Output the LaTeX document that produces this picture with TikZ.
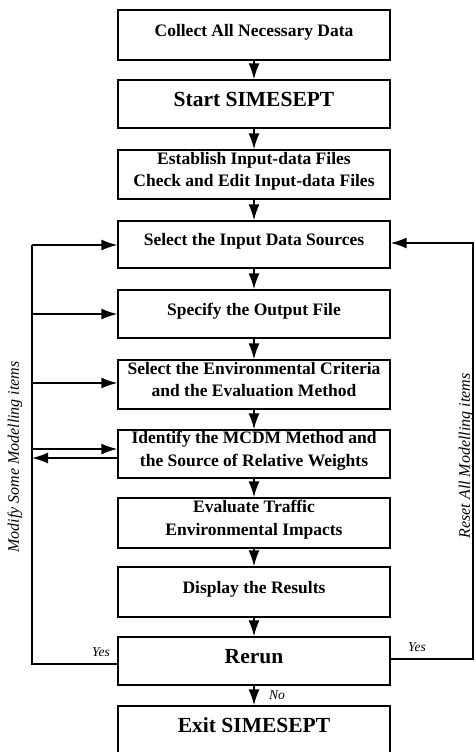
\documentclass[tikz,border=0pt]{standalone}
\usepackage{fontspec}
\setmainfont{Liberation Serif}
\usetikzlibrary{arrows.meta}
\begin{document}
\begin{tikzpicture}[x=1pt,y=-1pt,
  box/.style={draw, line width=1.4pt, minimum width=272pt, minimum height=48pt,
    inner sep=0pt, align=center, font=\fontsize{17.5}{22.5}\selectfont\bfseries},
  big/.style={font=\fontsize{21.5}{25}\selectfont\bfseries},
  up/.style={text depth=10pt},
  uptwo/.style={text depth=10pt},
  line/.style={line width=1.6pt},
  arr/.style={line width=1.6pt, -{Latex[length=16pt,width=11pt]}},
  lab/.style={font=\fontsize{13.5}{16}\selectfont\itshape, inner sep=0pt},
  side/.style={font=\fontsize{16}{19}\selectfont\itshape, inner sep=0pt, rotate=90}]
\useasboundingbox (0,0) rectangle (475,752);
\node[box,up,minimum height=50pt] (n1) at (254,35) {Collect All Necessary Data};
\node[box,up,big] (n2) at (254,104) {Start SIMESEPT};
\node[box,uptwo,minimum height=49pt] (n3) at (254,174.5) {Establish Input-data Files\\Check and Edit Input-data Files};
\node[box,up,minimum height=47pt] (n4) at (254,244.5) {Select the Input Data Sources};
\node[box,up] (n5) at (254,314) {Specify the Output File};
\node[box,uptwo,minimum height=49pt] (n6) at (254,384.5) {Select the Environmental Criteria\\and the Evaluation Method};
\node[box,uptwo] (n7) at (254,454) {Identify the MCDM Method and\\the Source of Relative Weights};
\node[box,uptwo,minimum height=50pt] (n8) at (254,523) {Evaluate Traffic\\Environmental Impacts};
\node[box,up,minimum height=50pt] (n9) at (254,592) {Display the Results};
\node[box,up,big] (n10) at (254,661) {Rerun};
\node[box,up,big] (n11) at (254,730) {Exit SIMESEPT};
\foreach \a/\b in {n1/n2,n2/n3,n3/n4,n4/n5,n5/n6,n6/n7,n7/n8,n8/n9,n9/n10,n10/n11}
  \draw[arr] (\a) -- (\b);
% left feedback
\coordinate (L4) at (32,245);
\coordinate (L5) at (32,314);
\coordinate (L6) at (32,383);
\coordinate (L7) at (32,449);
\coordinate (L7b) at (32,458);
\coordinate (Lb) at (32,664);
\draw[line] (L4) -- (Lb) -- (Lb -| n10.west);
\draw[arr] (L4) -- (L4 -| n4.west);
\draw[arr] (L5) -- (L5 -| n5.west);
\draw[arr] (L6) -- (L6 -| n6.west);
\draw[arr] (L7) -- (L7 -| n7.west);
\draw[arr] (L7b -| n7.west) -- (L7b);
% right feedback
\coordinate (R1) at (473,243);
\coordinate (R2) at (473,659);
\draw[arr] (R2 -| n10.east) -- (R2) -- (R1) -- (R1 -| n4.east);
% labels
\node[lab] (y1) at (101,652) {Yes};
\node[lab] (y2) at (417,647) {Yes};
\node[lab] (no) at (277,695) {No};
\node[side] (mod) at (15,457) {Modify Some Modelling items};
\node[side] (res) at (466,456) {Reset All Modelling items};
\end{tikzpicture}
\end{document}
